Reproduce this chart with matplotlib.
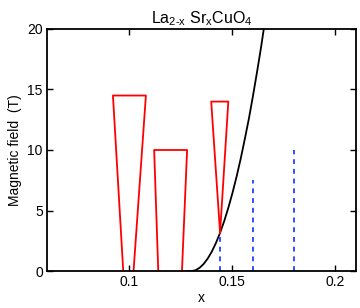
import matplotlib
matplotlib.use("Agg")
import matplotlib.pyplot as plt

plt.rcParams['font.family'] = ['Liberation Sans', 'DejaVu Sans']
plt.rcParams['mathtext.fontset'] = 'custom'
plt.rcParams['mathtext.rm'] = 'Liberation Sans'
plt.rcParams['mathtext.it'] = 'Liberation Sans'

# red funnel shapes (x, field)
funnel1_x = [0.097, 0.092, 0.108, 0.102]
funnel1_y = [0, 14.5, 14.5, 0]
funnel2_x = [0.114, 0.112, 0.128, 0.1255]
funnel2_y = [0, 10, 10, 0]
funnel3_x = [0.144, 0.1397, 0.148, 0.144]
funnel3_y = [3.15, 14, 14, 3.15]

# black curve
curve_x = [0.128, 0.130, 0.132, 0.134, 0.136, 0.138, 0.140, 0.142, 0.144, 0.146,
           0.148, 0.150, 0.152, 0.154, 0.156, 0.158, 0.160, 0.162, 0.164, 0.166]
curve_y = [0, 0, 0.06, 0.26, 0.58, 1.03, 1.61, 2.32, 3.16, 4.12,
           5.22, 6.44, 7.79, 9.27, 10.9, 12.6, 14.5, 16.5, 18.6, 20.9]

# blue dashed markers
dash_x = [0.144, 0.160, 0.180]
dash_top = [3.16, 7.5, 10]

fig = plt.figure(figsize=(3.6, 3.08), dpi=100)
ax = fig.add_axes([0.1306, 0.12, 0.8584, 0.786])

ax.plot(curve_x, curve_y, color='black', lw=1.3)
for fx, fy in [(funnel1_x, funnel1_y), (funnel2_x, funnel2_y), (funnel3_x, funnel3_y)]:
    ax.plot(fx, fy, color='#ff0000', lw=1.3)
for x, top in zip(dash_x, dash_top):
    ax.plot([x, x], [0, top], color='#3050ff', lw=1.4, dashes=(2.5, 2.5))

ax.set_xlim(0.06, 0.21)
ax.set_ylim(0, 20)
ax.set_xticks([0.1, 0.15, 0.2])
ax.set_xticklabels(['0.1', '0.15', '0.2'])
ax.set_yticks([0, 5, 10, 15, 20])
ax.tick_params(direction='in', top=True, right=True, labelsize=10, length=4, width=1, pad=3)
for s in ax.spines.values():
    s.set_linewidth(1.3)

ax.set_xlabel('x', fontsize=10, labelpad=1)
ax.set_ylabel('Magnetic field  (T)', fontsize=10, labelpad=4)
ax.set_title(r'La$_{2\text{-}x}$ Sr$_{x}$CuO$_{4}$', fontsize=11.5, pad=4)

fig.savefig('out.png', dpi=100)
